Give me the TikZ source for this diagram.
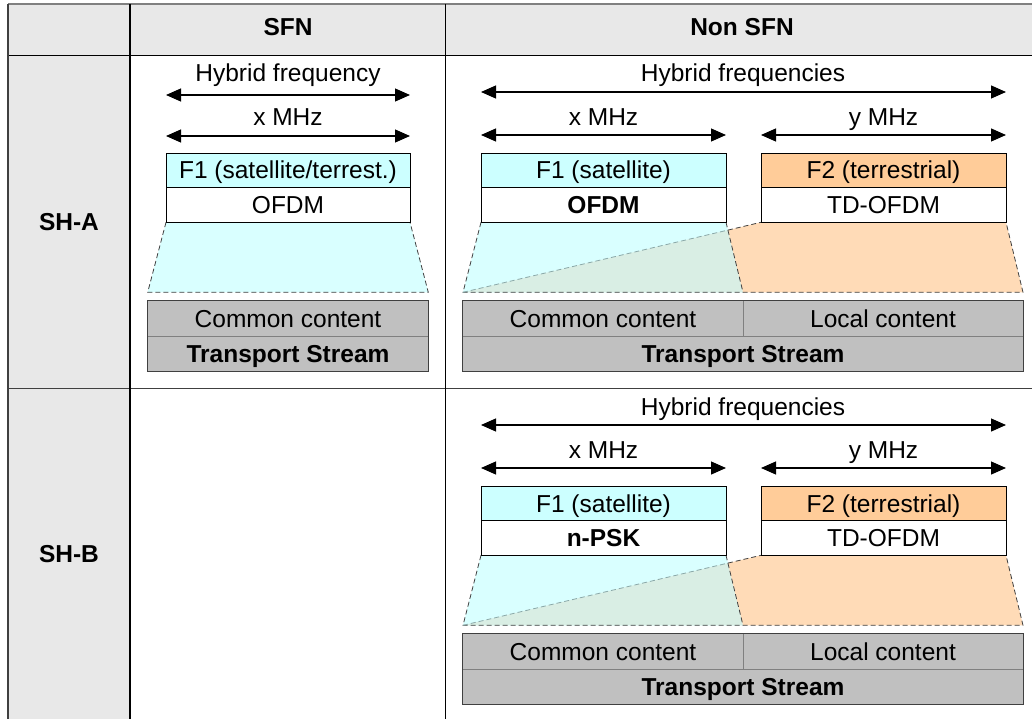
\documentclass[tikz,border=0pt]{standalone}
\usepackage{fontspec}
\setmainfont{Liberation Sans}
\usetikzlibrary{arrows.meta}
\definecolor{hdr}{HTML}{E8E8E8}
\definecolor{cyanbox}{HTML}{CCFFFF}
\definecolor{cyantrap}{HTML}{D9FFFF}
\definecolor{orangebox}{HTML}{FFCC99}
\definecolor{orangetrap}{HTML}{FFDBB7}
\definecolor{overlapc}{HTML}{D9EEE4}
\definecolor{tsgray}{HTML}{C0C0C0}
\definecolor{trapline}{HTML}{404040}
\definecolor{diagline}{HTML}{8AA8A8}
\definecolor{topline}{HTML}{808080}
\definecolor{rowline}{HTML}{404040}
\tikzset{
  rf/.style={font=\fontsize{24.5pt}{29pt}\selectfont},
  bf/.style={font=\fontsize{24.5pt}{29pt}\selectfont\bfseries},
  lbl/.style={inner sep=0pt, anchor=base, rf},
  blbl/.style={inner sep=0pt, anchor=base, bf},
  boxcell/.style={draw=black, line width=1pt, inner sep=0pt, text height=17pt, text depth=0pt, minimum height=34.5pt, rf},
  tscell/.style={fill=tsgray, inner sep=0pt, text height=17pt, text depth=0pt, minimum height=35pt, rf},
  dimarrow/.style={line width=1.2pt, {Triangle[length=15pt,width=13pt]}-{Triangle[length=15pt,width=13pt]}},
  trapedge/.style={draw=trapline, line width=0.8pt, dash pattern=on 5pt off 3pt},
  diagedge/.style={draw=diagline, line width=0.8pt, dash pattern=on 5pt off 3pt},
  tsdiv/.style={draw=topline, line width=1pt},
  tsborder/.style={draw=trapline, line width=1.3pt},
  gridline/.style={line width=1.5pt},
}
\newcommand\nsblock[2]{%
  \node[lbl] (#1hl) at (743,82) {Hybrid frequencies};
  \coordinate (#1ha) at (481,92); \coordinate (#1hb) at (1006,92);
  \draw[dimarrow] (#1ha) -- (#1hb);
  \node[lbl] (#1xl) at (603.5,125.5) {x MHz};
  \coordinate (#1xa) at (481,135); \coordinate (#1xb) at (726,135);
  \draw[dimarrow] (#1xa) -- (#1xb);
  \node[lbl] (#1yl) at (883.5,125.5) {y MHz};
  \coordinate (#1ya) at (761,135); \coordinate (#1yb) at (1006,135);
  \draw[dimarrow] (#1ya) -- (#1yb);
  % trapezoids
  \coordinate (#1A) at (463,292.3);
  \coordinate (#1B) at (761,222.3);
  \coordinate (#1C) at (726,222.3);
  \coordinate (#1D) at (743,292.3);
  \coordinate (#1E) at (481,222.3);
  \coordinate (#1F) at (1006,222.3);
  \coordinate (#1G) at (1023,292.3);
  \coordinate (#1P) at (727.9,230.1);
  \fill[cyantrap] (#1E) -- (#1C) -- (#1D) -- (#1A) -- cycle;
  \fill[overlapc] (#1A) -- (#1P) -- (#1D) -- cycle;
  \fill[orangetrap] (#1P) -- (#1B) -- (#1F) -- (#1G) -- (#1D) -- cycle;
  \draw[trapedge] (#1E) -- (#1A) -- (#1G) -- (#1F);
  \draw[trapedge] (#1C) -- (#1D);
  \draw[diagedge] (#1A) -- (#1P);
  \draw[trapedge] (#1P) -- (#1B);
  % boxes
  \node[boxcell, fill=cyanbox, minimum width=245pt] (#1f1) at (603.5,170.5) {F1 (satellite)};
  \node[boxcell, fill=white, minimum width=245pt, bf] (#1m1) at (603.5,205) {#2};
  \node[boxcell, fill=orangebox, minimum width=245pt] (#1f2) at (883.5,170.5) {F2 (terrestrial)};
  \node[boxcell, fill=white, minimum width=245pt] (#1m2) at (883.5,205) {TD-OFDM};
  % transport stream
  \node[tscell, minimum width=280pt] (#1cc) at (603,318.5) {Common content};
  \node[tscell, minimum width=280pt] (#1lc) at (883,318.5) {Local content};
  \node[tscell, minimum width=560pt, bf] (#1ts) at (743,353.5) {Transport Stream};
  \draw[tsdiv] (#1cc.north east) -- (#1cc.south east);
  \draw[tsdiv] (#1cc.south west) -- (#1lc.south east);
  \draw[tsborder] (#1cc.north west) rectangle (#1ts.south east);
}
\begin{document}
\begin{tikzpicture}[x=1pt,y=-1pt]
\useasboundingbox (0,0) rectangle (1032,719);
\fill[white] (0,0) rectangle (1032,719);
% table background
\fill[hdr] (8,4) rectangle (1032,55.5);
\fill[hdr] (8,55.5) rectangle (130,719);
% grid
\draw[gridline, draw=topline] (8,4) -- (1032,4);
\draw[gridline] (8,55.5) -- (1032,55.5);
\draw[gridline, draw=rowline] (8,388.3) -- (1032,388.3);
\draw[gridline, draw=rowline] (8,4) -- (8,719);
\draw[gridline] (130,4) -- (130,719);
\draw[gridline] (445.5,4) -- (445.5,719);
% headers
\node[blbl] (hsfn) at (288,36) {SFN};
\node[blbl] (hnsfn) at (742,36) {Non SFN};
\node[blbl] (sha) at (69,230) {SH-A};
\node[blbl] (shb) at (69,562) {SH-B};
% SFN block
\node[lbl] (shl) at (288,82) {Hybrid frequency};
\coordinate (sha1) at (166,95); \coordinate (sha2) at (410,95);
\draw[dimarrow] (sha1) -- (sha2);
\node[lbl] (sxl) at (288,126) {x MHz};
\coordinate (sxa) at (166,136); \coordinate (sxb) at (410,136);
\draw[dimarrow] (sxa) -- (sxb);
\coordinate (sE) at (166,222.3);
\coordinate (sC) at (410,222.3);
\coordinate (sD) at (428.3,292.3);
\coordinate (sA) at (147.7,292.3);
\fill[cyantrap] (sE) -- (sC) -- (sD) -- (sA) -- cycle;
\draw[trapedge] (sE) -- (sA) -- (sD) -- (sC);
\node[boxcell, fill=cyanbox, minimum width=244pt] (sf1) at (288,170.5) {F1 (satellite/terrest.)};
\node[boxcell, fill=white, minimum width=244pt] (sm1) at (288,205) {OFDM};
\node[tscell, minimum width=280.6pt] (scc) at (288,318.5) {Common content};
\node[tscell, minimum width=280.6pt, bf] (sts) at (288,353.5) {Transport Stream};
\draw[tsdiv] (scc.south west) -- (scc.south east);
\draw[tsborder] (scc.north west) rectangle (sts.south east);
% Non SFN blocks
\nsblock{a}{OFDM}
\begin{scope}[shift={(0,333)}]
\nsblock{b}{n-PSK}
\end{scope}
\end{tikzpicture}
\end{document}
